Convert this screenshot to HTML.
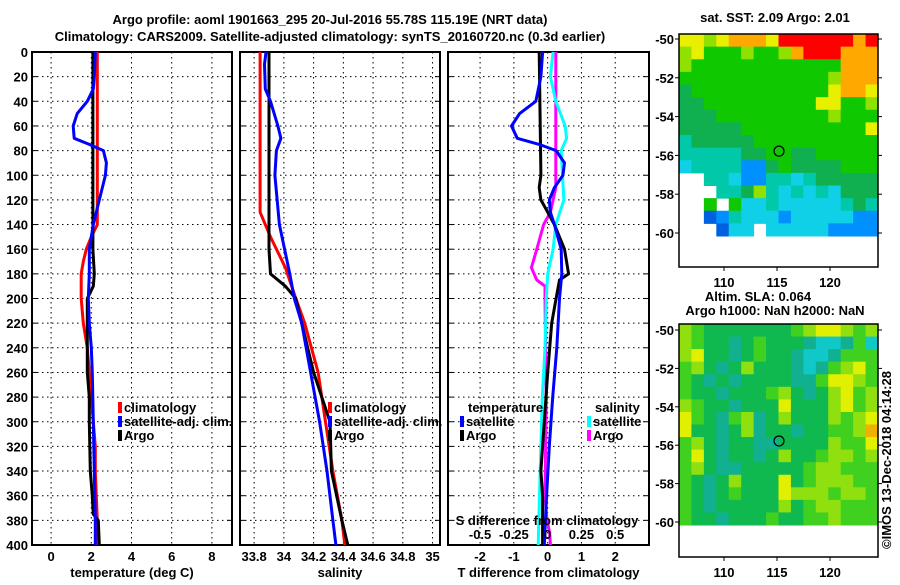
<!DOCTYPE html>
<html><head><meta charset="utf-8">
<style>
body{margin:0;background:#fff;}
svg text{font-family:"Liberation Sans",sans-serif;font-weight:bold;font-size:13px;fill:#000;}
</style></head>
<body>
<svg id="chart" width="900" height="580" xmlns="http://www.w3.org/2000/svg">
<text x="330" y="24" text-anchor="middle" font-size="14">Argo profile: aoml 1901663_295 20-Jul-2016 55.78S 115.19E (NRT data)</text>
<text x="330" y="41" text-anchor="middle" font-size="14">Climatology: CARS2009. Satellite-adjusted climatology: synTS_20160720.nc (0.3d earlier)</text>
<g id="g"></g>
</svg>
<script>
// ---- data ----
const depthTicks=[0,20,40,60,80,100,120,140,160,180,200,220,240,260,280,300,320,340,360,380,400];
const tTicks=[0,2,4,6,8];
const sTicks=[33.8,34,34.2,34.4,34.6,34.8,35];
const sTickLabels=["33.8","34","34.2","34.4","34.6","34.8","35"];
const dTTicks=[-2,-1,0,1,2];
const dSTicks=[-0.5,-0.25,0,0.25,0.5];
const dSTickLabels=["-0.5","-0.25","0","0.25","0.5"];

const tClimD=[0,140,150,160,170,180,200,220,240,260,280,300,320,340,360,380,400];
const tClimV=[2.3,2.3,2.0,1.75,1.6,1.5,1.5,1.6,1.8,1.9,2.0,2.1,2.2,2.2,2.25,2.3,2.25];
const tSatD=[0,20,30,40,50,60,70,75,80,90,100,120,140,160,180,200,220,240,260,300,340,380,400];
const tSatV=[2.2,2.15,2.1,1.8,1.3,1.1,1.15,1.9,2.6,2.75,2.7,2.4,2.1,1.9,1.9,1.85,1.9,2.0,2.05,2.1,2.15,2.2,2.2];
const tArgoD=[0,160,180,190,200,240,260,280,300,340,360,375,380,400];
const tArgoV=[2.08,2.08,2.15,2.1,1.8,1.8,1.8,1.9,1.9,1.95,2.05,2.1,2.35,2.4];

const sClimD=[0,130,150,175,200,220,260,300,340,380,400];
const sClimV=[33.84,33.84,33.91,34.01,34.08,34.14,34.23,34.28,34.33,34.39,34.41];
const sSatD=[0,10,30,40,60,70,80,100,140,180,200,220,260,300,340,380,400];
const sSatV=[33.88,33.87,33.875,33.91,33.96,33.98,33.95,33.94,33.97,34.04,34.07,34.12,34.18,34.24,34.29,34.33,34.35];
const sArgoD=[0,160,180,190,200,220,260,300,340,380,400];
const sArgoV=[33.9,33.9,33.91,34.01,34.08,34.12,34.2,34.31,34.32,34.39,34.43];

const dTSatD=[0,20,40,50,60,70,75,80,90,100,110,120,130,140,160,180,200,240,280,320,360,400];
const dTSatV=[-0.15,-0.2,-0.35,-0.83,-1.07,-0.9,-0.25,0.25,0.5,0.45,0.2,0.05,0.08,0.2,0.4,0.42,0.35,0.27,0.15,0.05,-0.03,-0.1];
const dTArgoD=[0,100,110,120,130,140,160,180,185,200,220,260,280,320,340,360,400];
const dTArgoV=[-0.25,-0.2,-0.25,-0.2,0,0.2,0.5,0.62,0.35,0.25,0.12,0,-0.05,-0.15,-0.2,-0.15,-0.15];
const dSSatD=[0,20,40,60,70,80,100,120,140,160,180,200,240,280,320,360,400];
const dSSatV=[0.04,0.02,0.06,0.13,0.14,0.1,0.11,0.12,0.06,0.04,0,-0.01,-0.02,-0.04,-0.05,-0.06,-0.07];
const dSArgoD=[0,110,120,130,140,160,175,185,190,200,240,280,320,360,380,390,400];
const dSArgoV=[0.06,0.06,0.04,0.02,-0.03,-0.08,-0.12,-0.08,-0.02,-0.02,-0.015,-0.01,-0.015,-0.02,-0.005,0.015,0.02];

const sstRows=["YYLYOOOYRRRRRROR","LYGGGLGGLORRROOO","LGGGGGGGGGGGGOOO","GGGGGGGGGGGGLOOO","DGGGGGGGGGGGYOOY","DDGGGGGGGGGYYGGL","DDDGGGGGGGGGLGGG","DDDDDGGGGGGGGGGY","TDDDDDGGGGGGGGGG","TTTTTDDGGDDGGGGG","CTTTTBBDGDDDDGGG","..TTCBBTTCTDDDDD","...TTDLTCTCTCDDD","..G.GCCTCCCCCTDT","..NBTCCCBCCCCCBB","...NCC.CCCCCBBBB"];
const slaRows=["LGDDDDDDDGLYYLGL","LGDDTDGDDDTCCTGC","LYDDTDGDDTCCTGGG","GLDTDLDDDTCTGLYG","GDTDTDDDDTTGYYLG","GDDTDDDGLDTDLYGL","LGDDTDDDYDDDLYGL","YGDTGLTDLDDDLGLY","YDDTDLTDDTDDGGLO","GLDTDDTTDDDDLGGY","GYDTDDTDLDDGLLGL","GLDTTDDDDDGLLGGG","GDTDLDDDYDGLLLGG","GDTDGDDDYLLLGLLG","GDTDDDDDLDGLLGGG","GDDTDDDGDDGGLGGG"];
const latTicks=[-50,-52,-54,-56,-58,-60];
const lonTicks=[110,115,120];

// ---- drawing ----
const NS="http://www.w3.org/2000/svg";
const G=document.getElementById('g');
function el(t,a,p){const e=document.createElementNS(NS,t);for(const k in a)e.setAttribute(k,a[k]);(p||G).appendChild(e);return e;}
const Y0=52,Y1=545;
const yD=d=>Y0+(Y1-Y0)*d/400;
const panels=[
 {x0:32,x1:232,min:-0.95,max:9.0,ticks:tTicks,labels:tTicks.map(String),title:"temperature (deg C)",name:"temperature"},
 {x0:240,x1:440,min:33.705,max:35.05,ticks:sTicks,labels:sTickLabels,title:"salinity",name:"salinity"},
 {x0:448,x1:649,min:-2.95,max:3.0,ticks:dTTicks,labels:dTTicks.map(String),title:"T difference from climatology",name:"difference"}
];
panels.forEach(p=>{p.sx=v=>p.x0+(p.x1-p.x0)*(v-p.min)/(p.max-p.min);});
panels.forEach((p,i)=>{
 const grp=el('g',{});
 
 
 depthTicks.forEach(d=>{
  if(d>0&&d<400){const l=el('line',{x1:p.x0,x2:p.x1,y1:yD(d),y2:yD(d),stroke:'#000','stroke-dasharray':'1.5,3.5','stroke-width':1},grp);
   }
  el('line',{x1:p.x0,x2:p.x0+5,y1:yD(d),y2:yD(d),stroke:'#000'},grp);
  el('line',{x1:p.x1-5,x2:p.x1,y1:yD(d),y2:yD(d),stroke:'#000'},grp);
  if(i==0){const t=el('text',{x:28,y:yD(d)+5,'text-anchor':'end'},grp);t.textContent=d;
   }
 });
 p.ticks.forEach((v,k)=>{
  const x=p.sx(v);
  const l=el('line',{x1:x,x2:x,y1:Y0,y2:Y1,stroke:'#000','stroke-dasharray':'1.5,3.5'},grp);
  
  const t=el('text',{x:x,y:561,'text-anchor':'middle'},grp);t.textContent=p.labels[k];
  
 });
 const r=el('rect',{x:p.x0,y:Y0,width:p.x1-p.x0,height:Y1-Y0,fill:'none',stroke:'#000','stroke-width':2},grp);
 
 const tt=el('text',{x:(p.x0+p.x1)/2,y:577,'text-anchor':'middle'},grp);tt.textContent=p.title;
 
});
function line(p,D,V,col,name,sc){
 const f=sc||p.sx;
 const pts=D.map((d,k)=>f(V[k]).toFixed(1)+','+yD(d).toFixed(1)).join(' ');
 const e=el('polyline',{points:pts,fill:'none',stroke:col,'stroke-width':3,'stroke-linejoin':'round'});
 
 
}
const P=panels;
line(P[0],tClimD,tClimV,'#ff0000','temp-climatology-line');
line(P[0],tArgoD,tArgoV,'#000000','temp-argo-line');
line(P[0],tSatD,tSatV,'#0000ff','temp-satellite-line');
line(P[1],sClimD,sClimV,'#ff0000','sal-climatology-line');
line(P[1],sArgoD,sArgoV,'#000000','sal-argo-line');
line(P[1],sSatD,sSatV,'#0000ff','sal-satellite-line');
const sxS=v=>P[2].sx(v*4);
line(P[2],dSArgoD,dSArgoV,'#ff00ff','sdiff-argo-line',sxS);
line(P[2],dSSatD,dSSatV,'#00ffff','sdiff-satellite-line',sxS);
line(P[2],dTArgoD,dTArgoV,'#000000','tdiff-argo-line');
line(P[2],dTSatD,dTSatV,'#0000ff','tdiff-satellite-line');
{const t=el('text',{x:547,y:525,'text-anchor':'middle'});t.textContent='S difference from climatology';
 
 dSTicks.forEach((v,k)=>{const l=el('text',{x:sxS(v),y:539,'text-anchor':'middle'});l.textContent=dSTickLabels[k];
  });}
function leg(x,y,col,txt){const g=el('g',{});
 el('rect',{x:x,y:y-10,width:4,height:11,fill:col},g);const t=el('text',{x:x+6,y:y},g);t.textContent=txt;}
[[118,'climatology','#ff0000',412],[118,'satellite-adj. clim.','#0000ff',426],[118,'Argo','#000',440]].forEach(a=>leg(a[0],a[3],a[2],a[1]));
[[328,'climatology','#ff0000',412],[328,'satellite-adj. clim.','#0000ff',426],[328,'Argo','#000',440]].forEach(a=>leg(a[0],a[3],a[2],a[1]));
{const t=el('text',{x:468,y:412});t.textContent='temperature';
 const t2=el('text',{x:595,y:412});t2.textContent='salinity';}
leg(460,426,'#0000ff','satellite');leg(460,440,'#000','Argo');
leg(587,426,'#00ffff','satellite');leg(587,440,'#ff00ff','Argo');

const cmap={R:'#ff0000',O:'#ffa800',Y:'#e8f000',L:'#90e000',G:'#10c800',D:'#10b050',T:'#00c8a8',C:'#10d0e8',B:'#0090ff',N:'#0060e0'};
const cmap2={G:'#40d020',D:'#10b850',T:'#10b090',Y:'#e0f000',L:'#90e010',C:'#10c8c8',O:'#f0b000'};
function map(rows,cm,mx0,mx1,my0,my1,latTop,latBot,name,title){
 const g=el('g',{});
 const nr=rows.length,nc=rows[0].length,cw=(mx1-mx0)/nc;
 const ly=l=>latTop+(latBot-latTop)*(-50-l)/10;
 const top=my0, bot=ly(-60)+3;
 const ch=(bot-top)/nr;
 rows.forEach((r,i)=>{[...r].forEach((c,j)=>{if(c=='.')return;
  const cell=el('rect',{x:mx0+j*cw,y:top+i*ch,width:cw+0.5,height:ch+0.5,fill:cm[c]},g);
  });});
 el('rect',{x:mx0,y:my0,width:mx1-mx0,height:my1-my0,fill:'none',stroke:'#000','stroke-width':1.5},g);
 const lx=v=>724+(v-110)*(830-724)/10;
 el('circle',{cx:lx(115.19),cy:ly(-55.78),r:5,fill:'none',stroke:'#000','stroke-width':1.2},g);
 latTicks.forEach(l=>{el('line',{x1:mx0-4,x2:mx0,y1:ly(l),y2:ly(l),stroke:'#000'},g);el('line',{x1:mx1,x2:mx1+4,y1:ly(l),y2:ly(l),stroke:'#000'},g);
  const t=el('text',{x:mx0-5,y:ly(l)+5,'text-anchor':'end'},g);t.textContent=l;});
 lonTicks.forEach(v=>{el('line',{x1:lx(v),x2:lx(v),y1:my1,y2:my1+4,stroke:'#000'},g);
  const t=el('text',{x:lx(v),y:my1+20,'text-anchor':'middle'},g);t.textContent=v;});
 title.forEach((s,k)=>{const t=el('text',{x:s[1],y:s[2],'text-anchor':'middle'},g);t.textContent=s[0];});
}
map(sstRows,cmap,679,878,34,267,39,233,'sst-map',[['sat. SST: 2.09 Argo: 2.01',775,22]]);
map(slaRows,cmap2,679,878,324,557,330,522,'sla-map',[['Altim. SLA: 0.064',758,301],['Argo h1000: NaN h2000: NaN',775,315]]);
{const t=el('text',{x:0,y:0,transform:'translate(891,549) rotate(-90)','font-size':'12'});t.textContent='©IMOS 13-Dec-2018 04:14:28';
 }
</script>
</body></html>
